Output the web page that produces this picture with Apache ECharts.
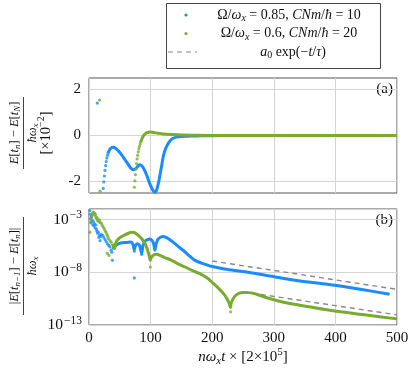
<!DOCTYPE html>
<html><head><meta charset="utf-8">
<script src="https://cdn.jsdelivr.net/npm/echarts@6/dist/echarts.min.js"></script>
<style>html,body{margin:0;padding:0;background:#fff}#c{width:415px;height:379px}</style>
</head><body><div id="c"></div><script>
// ---------- data ----------
const xTicks = [0, 100, 200, 300, 400, 500];
const topTicks = [-2, 0, 2];            // panel (a), units of 1e-2
const logTickExps = [-13, -8, -3];      // panel (b), powers of ten

// panel (a): [x, value (x1e-2)]
const blueA_dots = [[13.5,1.41],[23,-2.3],[24,-2.02],[25,-1.76],[26,-1.52],[27,-1.31],[28,-1.13],[29,-0.98],[30,-0.86],[31,-0.76]];
const blueA_line = [[31,-0.76],[33,-0.64],[36,-0.54],[39,-0.51],[43,-0.55],[48,-0.68],[53,-0.84],[58,-1.04],[64,-1.27],[68,-1.42],[72,-1.49],[76,-1.44],[80,-1.32],[83,-1.27],[86,-1.32],[90,-1.5],[94,-1.75],[98,-2.05],[102,-2.3],[105,-2.43],[107,-2.47],[109,-2.42],[112,-2.15],[115,-1.75],[118,-1.3],[121,-0.86],[124,-0.6],[127,-0.42],[131,-0.25],[136,-0.13],[142,-0.07],[150,-0.04],[160,-0.03],[175,-0.02],[190,-0.01],[220,0],[300,0],[400,0],[500,0]];
const greenA_dots = [[17.3,1.54],[18,-2.42],[73.6,-2.25],[74.5,-1.97],[75.4,-1.7],[76.3,-1.45],[77.2,-1.22],[78.1,-1.02],[79,-0.86],[80,-0.71],[81,-0.58],[82,-0.47],[83,-0.37],[84,-0.28]];
const greenA_line = [[84,-0.28],[86,-0.14],[88,-0.03],[91,0.07],[95,0.13],[99,0.15],[105,0.13],[112,0.1],[120,0.07],[134,0.04],[150,0.02],[170,0.01],[200,0],[300,0],[400,0],[500,0]];

// panel (b): [x, log10(value)]
const blueB_dots = [[1.5,-2.15],[2,-2.5],[2.5,-2.9],[3,-3.3],[4,-2.7],[5,-3.1],[6,-3.5],[7,-3.2],[8,-3.6],[9,-3.4],[10,-3.8],[11,-3.5],[12,-3.9],[13,-4.1],[14,-4.3],[15,-4.2],[16,-4.7],[17,-4.5],[18,-5.0],[19,-4.6],[20,-4.4],[22,-4.5],[24,-4.7],[26,-4.9],[28,-5.1],[30,-5.3],[32,-5.45],[34,-5.6],[36,-5.9],[37,-6.1],[38,-6.87],[73.6,-8.54],[73.6,-6.0],[85.5,-6.3]];
const blueB_line = [[38.5,-5.8],[41,-5.6],[44,-5.42],[47.6,-5.3],[52,-5.22],[58,-5.18],[64,-5.15],[68,-5.14],[71,-5.3],[73.5,-5.85],[75.5,-5.45],[79,-5.3],[82,-5.45],[85.5,-6.2],[87.5,-5.5],[91,-5.05],[95,-4.9],[99,-4.85],[102,-4.95],[105,-5.3],[107,-5.9],[109,-5.3],[112,-4.85],[116,-4.68],[120.6,-4.6],[126,-4.72],[133,-4.98],[140,-5.3],[148,-5.7],[156,-6.08],[164,-6.5],[172,-6.87],[184,-7.15],[200,-7.45],[220,-7.68],[240,-7.85],[256,-7.97],[294,-8.36],[326,-8.68],[360,-8.95],[399,-9.23],[445,-9.65],[488,-10.08]];
const greenB_dots = [[1.6,-4.2],[3,-3.2],[4,-2.8],[5,-2.55],[6,-2.4],[7,-2.3],[8.6,-2.37],[9.5,-2.6],[10.5,-2.5],[11.5,-2.85],[12.5,-2.78],[13.5,-3.1],[14.5,-2.95],[16,-3.2],[17,-3.05],[18.5,-3.3],[20,-3.35],[21.5,-3.55],[23,-3.7],[24.5,-3.85],[26,-4.04],[27.5,-4.2],[29,-4.4],[29.7,-6.2],[30.5,-4.6],[31.5,-4.8],[32.5,-6.4],[34,-5.0],[36,-5.15],[99.5,-7.5],[230,-11.75]];
const greenB_line = [[38,-5.3],[40,-5.6],[41.5,-5.75],[43,-5.35],[45,-5.05],[47.6,-4.85],[53,-4.6],[58.4,-4.45],[64,-4.3],[69,-4.2],[74,-4.25],[80,-4.5],[86,-4.85],[91,-5.3],[94,-5.7],[96,-6.08],[98,-6.5],[99.5,-6.85],[101,-6.6],[104,-6.4],[107,-6.3],[110,-6.28],[116,-6.42],[122,-6.58],[134,-6.87],[145,-7.2],[156,-7.5],[168,-7.85],[180,-8.13],[192,-8.55],[202,-9.07],[210,-9.5],[218,-10.0],[224,-10.5],[228,-11.0],[229.5,-11.35],[231,-10.9],[234,-10.5],[238,-10.2],[243,-10.0],[250,-9.92],[258,-9.93],[267,-10.0],[280,-10.25],[294,-10.5],[318,-10.86],[360,-11.3],[399,-11.68],[450,-12.05],[500,-12.42]];
const fitUpper = [[200,-6.93],[500,-9.62]];
const fitLower = [[250,-9.85],[500,-12.04]];

// ---------- helpers ----------
const SERIF = '"Liberation Serif","DejaVu Serif",serif';
const BLUE = '#1a8cff', GREEN = '#77ac30', DASHC = '#8a8a8a', GRIDC = '#d4d4d4', FRAME = '#555';
const pow = arr => arr.map(p => [p[0], Math.pow(10, p[1])]);
function rich(fs) {
  const s = Math.round(fs * 0.7);
  return {
    r: {fontSize: fs, fontFamily: SERIF, color: '#111'},
    i: {fontSize: fs, fontFamily: SERIF, fontStyle: 'italic', color: '#111'},
    sub: {fontSize: s, fontFamily: SERIF, fontStyle: 'italic', color: '#111', padding: [Math.round(fs*0.5),0,0,0]},
    subr: {fontSize: s, fontFamily: SERIF, color: '#111', padding: [Math.round(fs*0.5),0,0,0]},
    sup: {fontSize: s, fontFamily: SERIF, color: '#111', padding: [0,0,Math.round(fs*0.6),0]}
  };
}
function txt(x, y, text, fs, align, va) {
  return {type: 'text', x: x, y: y, silent: true,
    style: {text: text, fontSize: fs, fontFamily: SERIF, fill: '#111', rich: rich(fs),
      align: align || 'center', verticalAlign: va || 'middle', textAlign: align || 'center', textVerticalAlign: va || 'middle'}};
}
function frac(cx, cy, num, den, extra, bar, fs) {
  const ch = [
    txt(0, -1.5, num, fs, 'center', 'bottom'),
    {type: 'line', silent: true, shape: {x1: -bar/2, y1: 0, x2: bar/2, y2: 0}, style: {stroke: '#111', lineWidth: 0.8}},
    txt(0, 1.5, den, fs, 'center', 'top')
  ];
  if (extra) ch.push(txt(0, 22.5, extra, 14.5, 'center', 'middle'));
  return {type: 'group', x: cx, y: cy, rotation: Math.PI/2, children: ch};
}

const chart = echarts.init(document.getElementById('c'), null, {renderer: 'canvas'});
const xAxisBase = i => ({
  type: 'value', gridIndex: i, min: 0, max: 500, interval: 100,
  axisLine: {show: false}, axisTick: {show: false},
  splitLine: {show: true, lineStyle: {color: GRIDC, width: 1}},
  axisLabel: {show: i === 1, fontFamily: SERIF, fontSize: 15, color: '#111', margin: 6},
});
const option = {
  backgroundColor: '#fff',
  animation: false,
  grid: [
    {left: 89, right: 18, top: 78, height: 115, show: true, borderColor: FRAME, borderWidth: 1, backgroundColor: 'transparent'},
    {left: 89, right: 18, top: 209, height: 116, show: true, borderColor: FRAME, borderWidth: 1, backgroundColor: 'transparent'}
  ],
  xAxis: [
    xAxisBase(0),
    Object.assign(xAxisBase(1), {
      name: '{i|n}{i|ω}{sub|x}{i|t} × [2×10{sup|5}]', nameLocation: 'middle', nameGap: 22,
      nameTextStyle: {fontFamily: SERIF, fontSize: 15, color: '#111', rich: rich(15)}
    })
  ],
  yAxis: [
    {type: 'value', gridIndex: 0, min: -2.5, max: 2.5,
      axisLine: {show: false},
      axisTick: {show: false, customValues: topTicks},
      axisLabel: {customValues: topTicks, fontFamily: SERIF, fontSize: 15, color: '#111', margin: 8},
      splitLine: {show: true, lineStyle: {color: GRIDC}}},
    {type: 'log', logBase: 10, gridIndex: 1, min: Math.pow(10, logTickExps[0]), max: 1e-2, interval: 5,
      axisLine: {show: false}, axisTick: {show: false},
      axisLabel: {fontFamily: SERIF, fontSize: 15, color: '#111', margin: 7, showMaxLabel: false,
        formatter: v => {
          const e = Math.round(Math.log10(v));
          return logTickExps.indexOf(e) >= 0 ? '{b|10}{sup|' + (e < 0 ? '−' : '') + Math.abs(e) + '}' : '';
        },
        rich: {b: {fontFamily: SERIF, fontSize: 15.5, color: '#111'}, sup: {fontFamily: SERIF, fontSize: 11.5, color: '#111', padding: [0,0,9,1]}}},
      splitLine: {show: true, lineStyle: {color: GRIDC}}}
  ],
  series: [
    {name: 'blueA', type: 'line', xAxisIndex: 0, yAxisIndex: 0, data: blueA_line, smooth: 0.35, showSymbol: false, lineStyle: {color: BLUE, width: 3}, z: 3},
    {name: 'blueA', type: 'scatter', xAxisIndex: 0, yAxisIndex: 0, data: blueA_dots, symbolSize: 3.2, itemStyle: {color: BLUE}, z: 3},
    {name: 'greenA', type: 'line', xAxisIndex: 0, yAxisIndex: 0, data: greenA_line, smooth: 0.35, showSymbol: false, lineStyle: {color: GREEN, width: 3}, z: 4},
    {name: 'greenA', type: 'scatter', xAxisIndex: 0, yAxisIndex: 0, data: greenA_dots, symbolSize: 3.2, itemStyle: {color: GREEN}, z: 4},
    {name: 'blueB', type: 'line', xAxisIndex: 1, yAxisIndex: 1, data: pow(blueB_line), smooth: 0.3, showSymbol: false, lineStyle: {color: BLUE, width: 3}, z: 3},
    {name: 'blueB', type: 'scatter', xAxisIndex: 1, yAxisIndex: 1, data: pow(blueB_dots), symbolSize: 3.2, itemStyle: {color: BLUE}, z: 3},
    {name: 'greenB', type: 'line', xAxisIndex: 1, yAxisIndex: 1, data: pow(greenB_line), smooth: 0.3, showSymbol: false, lineStyle: {color: GREEN, width: 3}, z: 4},
    {name: 'greenB', type: 'scatter', xAxisIndex: 1, yAxisIndex: 1, data: pow(greenB_dots), symbolSize: 3.2, itemStyle: {color: GREEN}, z: 4},
    {name: 'fit1', type: 'line', xAxisIndex: 1, yAxisIndex: 1, data: pow(fitUpper), showSymbol: false, lineStyle: {color: DASHC, width: 1.4, type: [5, 4]}, z: 5},
    {name: 'fit2', type: 'line', xAxisIndex: 1, yAxisIndex: 1, data: pow(fitLower), showSymbol: false, lineStyle: {color: DASHC, width: 1.4, type: [5, 4]}, z: 5}
  ],
  graphic: [
    // legend box
    {type: 'rect', silent: true, shape: {x: 166.5, y: 3.5, width: 214, height: 65}, style: {fill: '#fff', stroke: '#444', lineWidth: 1}},
    {type: 'circle', silent: true, shape: {cx: 186, cy: 15, r: 1.6}, style: {fill: BLUE}},
    {type: 'circle', silent: true, shape: {cx: 186, cy: 33.5, r: 1.6}, style: {fill: GREEN}},
    {type: 'line', silent: true, shape: {x1: 168, y1: 52, x2: 197, y2: 52}, style: {stroke: DASHC, lineWidth: 1.2, lineDash: [5, 4]}},
    txt(289, 15, 'Ω/{i|ω}{sub|x} = 0.85, {i|CNm}/{i|ħ} = 10', 14),
    txt(289, 33.5, 'Ω/{i|ω}{sub|x} = 0.6, {i|CNm}/{i|ħ} = 20', 14),
    txt(293, 52, '{i|a}{subr|0} exp(−{i|t}/{i|τ})', 14),
    // panel tags
    txt(393, 89, '(a)', 15, 'right', 'middle'),
    txt(393, 220, '(b)', 15, 'right', 'middle'),
    // y axis labels
    frac(23.5, 133, '{i|E}[{i|t}{sub|n}] − {i|E}[{i|t}{sub|N}]', '{i|ħω}{sub|x}', '[×10{sup|−2}]', 72, 12.5),
    frac(23.5, 266, '|{i|E}[{i|t}{sub|n−1}] − {i|E}[{i|t}{sub|n}]|', '{i|ħω}{sub|x}', null, 98, 12.5)
  ]
};
chart.setOption(option);
</script></body></html>
